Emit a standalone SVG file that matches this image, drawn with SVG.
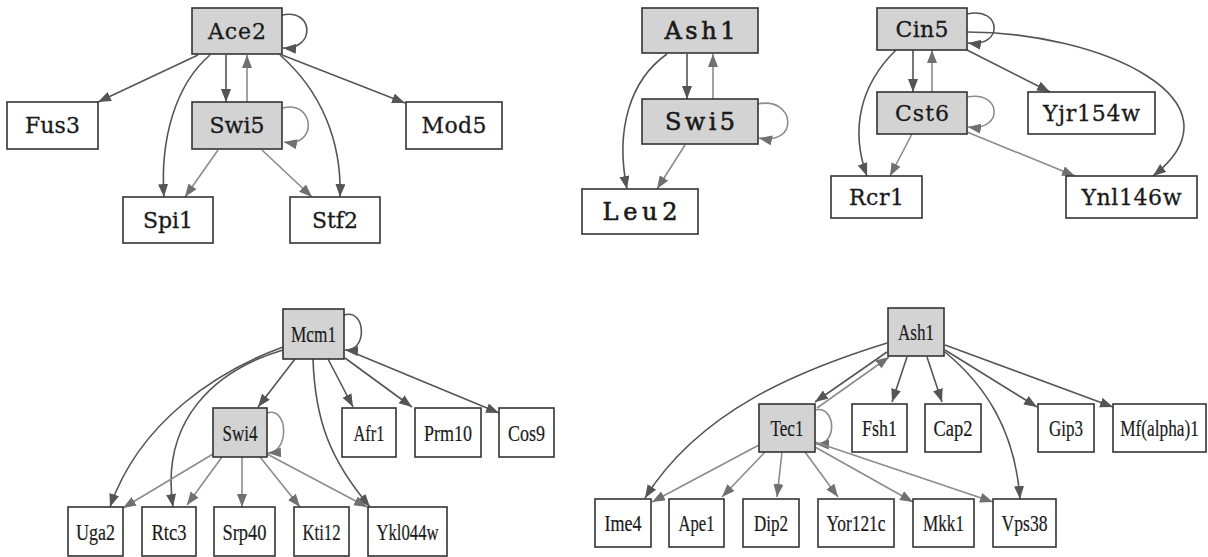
<svg xmlns="http://www.w3.org/2000/svg" width="1208" height="557" viewBox="0 0 1208 557">
  <style>
    .box{fill:#ffffff;stroke:#333333;stroke-width:1.6}
    .reg{fill:#d3d3d3;stroke:#333333;stroke-width:1.6}
    .lblA{font-family:"DejaVu Serif","Liberation Serif",serif;font-size:22px;fill:#1a1a1a;stroke:#1a1a1a;stroke-width:0.3;text-anchor:middle}
    .lblM{font-family:"DejaVu Serif","Liberation Serif",serif;font-size:24px;fill:#1a1a1a;stroke:#1a1a1a;stroke-width:0.6;text-anchor:middle}
    .lblB{font-family:"Liberation Serif","DejaVu Serif",serif;font-size:24px;fill:#1a1a1a;stroke:#1a1a1a;stroke-width:0.2;text-anchor:middle}
    .e{fill:none;stroke:#555555;stroke-width:1.6;marker-end:url(#ah)}
    .f{fill:none;stroke:#8c8c8c;stroke-width:1.6;marker-end:url(#ahl)}
  </style>
  <defs>
    <marker id="ah" markerUnits="userSpaceOnUse" markerWidth="14" markerHeight="11" refX="13" refY="5" orient="auto">
      <path d="M0,0 L13,5 L0,10 z" fill="#555555"/>
    </marker>
    <marker id="ahl" markerUnits="userSpaceOnUse" markerWidth="14" markerHeight="11" refX="13" refY="5" orient="auto">
      <path d="M0,0 L13,5 L0,10 z" fill="#707070"/>
    </marker>
  </defs>
  <rect width="1208" height="557" fill="#ffffff"/>

  <!-- connectors -->
  <g id="edges">
    <!-- Ace2 / Swi5 network -->
    <path class="e" d="M282,15 C314,8 316,50 283,48"/>
    <path class="e" d="M198,55 L98,102"/>
    <path class="e" d="M210,55 C175,85 160,140 164,197"/>
    <path class="e" d="M226,55 L226,102"/>
    <path class="f" d="M247,102 L247,55"/>
    <path class="e" d="M280,55 C320,90 342,140 340,197"/>
    <path class="e" d="M282,55 L405,103"/>
    <path class="f" d="M283,108 C315,100 318,148 284,142"/>
    <path class="f" d="M218,150 L185,197"/>
    <path class="f" d="M262,150 L312,197"/>

    <!-- Ash1 / Swi5 network -->
    <path class="e" d="M687,54 L687,99"/>
    <path class="f" d="M713,99 L713,54"/>
    <path class="f" d="M758,104 C795,96 800,146 759,138"/>
    <path class="e" d="M667,54 C630,80 615,130 627,189"/>
    <path class="f" d="M685,145 L657,189"/>

    <!-- Cin5 / Cst6 network -->
    <path class="e" d="M967,14 C1002,6 1004,48 968,43"/>
    <path class="f" d="M967,97 C1002,90 1004,132 968,127"/>
    <path class="e" d="M913,50 L913,92"/>
    <path class="f" d="M932,92 L932,50"/>
    <path class="e" d="M896,50 C860,85 850,130 867,176"/>
    <path class="f" d="M912,134 L890,176"/>
    <path class="e" d="M967,50 L1050,92"/>
    <path class="e" d="M967,32 C1100,32 1250,100 1153,176"/>
    <path class="f" d="M967,132 L1075,176"/>

    <!-- Mcm1 / Swi4 network -->
    <path class="e" d="M344,315 C366,308 368,352 345,350"/>
    <path class="e" d="M295,359 L258,407"/>
    <path class="e" d="M283,347 C220,370 140,420 110,507"/>
    <path class="e" d="M283,350 C215,370 160,420 173,507"/>
    <path class="e" d="M313,359 C315,420 330,460 370,507"/>
    <path class="e" d="M328,359 L353,407"/>
    <path class="e" d="M345,358 L412,407"/>
    <path class="e" d="M347,350 L499,413"/>
    <path class="f" d="M267,413 C288,406 290,452 268,453"/>
    <path class="f" d="M213,454 L123,508"/>
    <path class="f" d="M222,457 L187,505"/>
    <path class="f" d="M242,457 L242,507"/>
    <path class="f" d="M260,457 L300,507"/>
    <path class="f" d="M267,454 L367,507"/>

    <!-- Ash1 / Tec1 network -->
    <path class="e" d="M887,352 L815,402"/>
    <path class="f" d="M817,408 L889,357"/>
    <path class="e" d="M887,343 C800,370 700,410 645,498"/>
    <path class="f" d="M815,410 C836,405 838,445 816,444"/>
    <path class="f" d="M759,445 L652,502"/>
    <path class="f" d="M765,452 L722,497"/>
    <path class="f" d="M782,452 L777,497"/>
    <path class="f" d="M805,452 L838,497"/>
    <path class="f" d="M815,447 L913,502"/>
    <path class="f" d="M815,442 L993,502"/>
    <path class="e" d="M907,357 L892,402"/>
    <path class="e" d="M927,357 L942,402"/>
    <path class="e" d="M945,352 C985,385 1015,430 1020,499"/>
    <path class="e" d="M945,350 L1037,407"/>
    <path class="e" d="M945,345 L1113,407"/>
  </g>

  <!-- Ace2 / Swi5 network nodes -->
  <g id="n-ace2"><rect class="reg" x="192" y="8" width="90" height="46"/><text class="lblA" x="237" y="39" textLength="58">Ace2</text></g>
  <g id="n-swi5a"><rect class="reg" x="192" y="102" width="90" height="47"/><text class="lblA" x="237" y="133" textLength="55">Swi5</text></g>
  <g id="n-fus3"><rect class="box" x="7" y="102" width="91" height="47"/><text class="lblA" x="52.5" y="133" textLength="55">Fus3</text></g>
  <g id="n-mod5"><rect class="box" x="406" y="102" width="96" height="47"/><text class="lblA" x="454" y="133" textLength="65">Mod5</text></g>
  <g id="n-spi1"><rect class="box" x="123" y="197" width="90" height="46"/><text class="lblA" x="168" y="228" textLength="50">Spi1</text></g>
  <g id="n-stf2"><rect class="box" x="290" y="197" width="90" height="46"/><text class="lblA" x="335" y="228" textLength="46">Stf2</text></g>

  <!-- Ash1 / Swi5 network nodes -->
  <g id="n-ash1a"><rect class="reg" x="642" y="8" width="116" height="45"/><text class="lblM" x="700" y="39" textLength="71">Ash1</text></g>
  <g id="n-swi5b"><rect class="reg" x="642" y="99" width="116" height="45"/><text class="lblM" x="700" y="130" textLength="70">Swi5</text></g>
  <g id="n-leu2"><rect class="box" x="582" y="189" width="116" height="45"/><text class="lblM" x="640" y="220" textLength="75">Leu2</text></g>

  <!-- Cin5 / Cst6 network nodes -->
  <g id="n-cin5"><rect class="reg" x="877" y="8" width="90" height="42"/><text class="lblA" x="922" y="37" textLength="53">Cin5</text></g>
  <g id="n-cst6"><rect class="reg" x="877" y="92" width="90" height="42"/><text class="lblA" x="922" y="121" textLength="54">Cst6</text></g>
  <g id="n-yjr154w"><rect class="box" x="1028" y="92" width="127" height="42"/><text class="lblA" x="1091.5" y="121" textLength="97">Yjr154w</text></g>
  <g id="n-rcr1"><rect class="box" x="831" y="176" width="91" height="42"/><text class="lblA" x="876.5" y="205" textLength="55">Rcr1</text></g>
  <g id="n-ynl146w"><rect class="box" x="1066" y="176" width="131" height="42"/><text class="lblA" x="1131.5" y="205" textLength="100">Ynl146w</text></g>

  <!-- Mcm1 / Swi4 network nodes -->
  <g id="n-mcm1"><rect class="reg" x="283" y="309" width="61" height="50"/><text class="lblB" x="313.5" y="342" textLength="45" lengthAdjust="spacingAndGlyphs">Mcm1</text></g>
  <g id="n-swi4"><rect class="reg" x="213" y="408" width="54" height="49"/><text class="lblB" x="240" y="441" textLength="35" lengthAdjust="spacingAndGlyphs">Swi4</text></g>
  <g id="n-afr1"><rect class="box" x="342" y="408" width="54" height="49"/><text class="lblB" x="369" y="441" textLength="31" lengthAdjust="spacingAndGlyphs">Afr1</text></g>
  <g id="n-prm10"><rect class="box" x="415" y="408" width="66" height="49"/><text class="lblB" x="448" y="441" textLength="48" lengthAdjust="spacingAndGlyphs">Prm10</text></g>
  <g id="n-cos9"><rect class="box" x="499" y="408" width="55" height="49"/><text class="lblB" x="526.5" y="441" textLength="37" lengthAdjust="spacingAndGlyphs">Cos9</text></g>
  <g id="n-uga2"><rect class="box" x="68" y="507" width="55" height="49"/><text class="lblB" x="95.5" y="540" textLength="39" lengthAdjust="spacingAndGlyphs">Uga2</text></g>
  <g id="n-rtc3"><rect class="box" x="142" y="507" width="54" height="49"/><text class="lblB" x="169" y="540" textLength="35" lengthAdjust="spacingAndGlyphs">Rtc3</text></g>
  <g id="n-srp40"><rect class="box" x="214" y="507" width="61" height="49"/><text class="lblB" x="244.5" y="540" textLength="44" lengthAdjust="spacingAndGlyphs">Srp40</text></g>
  <g id="n-kti12"><rect class="box" x="294" y="507" width="55" height="49"/><text class="lblB" x="321.5" y="540" textLength="38" lengthAdjust="spacingAndGlyphs">Kti12</text></g>
  <g id="n-ykl044w"><rect class="box" x="368" y="507" width="79" height="49"/><text class="lblB" x="407.5" y="540" textLength="62" lengthAdjust="spacingAndGlyphs">Ykl044w</text></g>

  <!-- Ash1 / Tec1 network nodes -->
  <g id="n-ash1b"><rect class="reg" x="888" y="308" width="56" height="48"/><text class="lblB" x="916" y="340" textLength="36" lengthAdjust="spacingAndGlyphs">Ash1</text></g>
  <g id="n-tec1"><rect class="reg" x="759" y="404" width="56" height="48"/><text class="lblB" x="787" y="436" textLength="33" lengthAdjust="spacingAndGlyphs">Tec1</text></g>
  <g id="n-fsh1"><rect class="box" x="852" y="404" width="55" height="48"/><text class="lblB" x="879.5" y="436" textLength="35" lengthAdjust="spacingAndGlyphs">Fsh1</text></g>
  <g id="n-cap2"><rect class="box" x="925" y="404" width="56" height="48"/><text class="lblB" x="953" y="436" textLength="39" lengthAdjust="spacingAndGlyphs">Cap2</text></g>
  <g id="n-gip3"><rect class="box" x="1038" y="404" width="56" height="48"/><text class="lblB" x="1066" y="436" textLength="34" lengthAdjust="spacingAndGlyphs">Gip3</text></g>
  <g id="n-mfalpha1"><rect class="box" x="1113" y="404" width="93" height="48"/><text class="lblB" transform="translate(1159.5,436) scale(0.72,1)" x="0" y="0">Mf(alpha)1</text></g>
  <g id="n-ime4"><rect class="box" x="595" y="499" width="56" height="48"/><text class="lblB" x="623" y="531" textLength="37" lengthAdjust="spacingAndGlyphs">Ime4</text></g>
  <g id="n-ape1"><rect class="box" x="669" y="499" width="55" height="48"/><text class="lblB" x="696.5" y="531" textLength="36" lengthAdjust="spacingAndGlyphs">Ape1</text></g>
  <g id="n-dip2"><rect class="box" x="743" y="499" width="56" height="48"/><text class="lblB" x="771" y="531" textLength="34" lengthAdjust="spacingAndGlyphs">Dip2</text></g>
  <g id="n-yor121c"><rect class="box" x="818" y="499" width="76" height="48"/><text class="lblB" x="856" y="531" textLength="59" lengthAdjust="spacingAndGlyphs">Yor121c</text></g>
  <g id="n-mkk1"><rect class="box" x="913" y="499" width="61" height="48"/><text class="lblB" x="943.5" y="531" textLength="41" lengthAdjust="spacingAndGlyphs">Mkk1</text></g>
  <g id="n-vps38"><rect class="box" x="993" y="499" width="63" height="48"/><text class="lblB" x="1024.5" y="531" textLength="46" lengthAdjust="spacingAndGlyphs">Vps38</text></g>
</svg>
